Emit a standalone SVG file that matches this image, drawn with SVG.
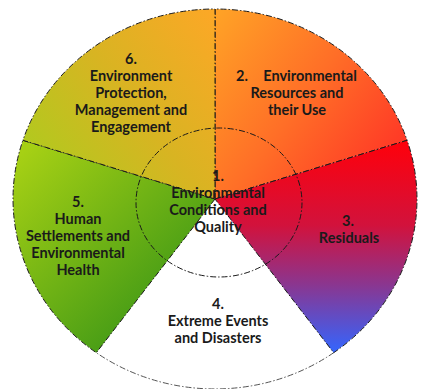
<svg xmlns="http://www.w3.org/2000/svg" width="422" height="389" viewBox="0 0 422 389">
<defs>
<linearGradient id="g2" gradientUnits="userSpaceOnUse" x1="215" y1="20" x2="405" y2="160">
<stop offset="0" stop-color="#ffa126"/><stop offset="0.5" stop-color="#ff6e27"/><stop offset="1" stop-color="#ff3326"/>
</linearGradient>
<linearGradient id="g3" gradientUnits="userSpaceOnUse" x1="0" y1="140" x2="0" y2="353">
<stop offset="0" stop-color="#ff000a"/><stop offset="0.4" stop-color="#d2123c"/><stop offset="0.68" stop-color="#8a3690"/><stop offset="1" stop-color="#3366ff"/>
</linearGradient>
<linearGradient id="g5" gradientUnits="userSpaceOnUse" x1="25" y1="150" x2="190" y2="320">
<stop offset="0" stop-color="#a6d014"/><stop offset="1" stop-color="#379416"/>
</linearGradient>
<linearGradient id="g6" gradientUnits="userSpaceOnUse" x1="30" y1="160" x2="215" y2="20">
<stop offset="0" stop-color="#b0ca1e"/><stop offset="0.5" stop-color="#d8b422"/><stop offset="1" stop-color="#fba826"/>
</linearGradient>
</defs>
<style>
.sec{stroke:#1a1a1a;stroke-width:1;stroke-dasharray:6 2 1.5 2}
.white{fill:#ffffff;stroke:none}
.arc4{fill:none;stroke:#555;stroke-width:1;stroke-dasharray:6 2 1.5 2}
.inner{fill:none;stroke:#1a1a1a;stroke-width:1;stroke-dasharray:6 2 1.5 2}
text{font-family:Lato,"Open Sans","Liberation Sans",sans-serif;font-weight:bold;font-size:14.5px;fill:#1a1a1a;text-anchor:middle}
</style>
<g id="node4">
<path class="white" d="M215,199 L333.7,352.7 A202,190 0 0,1 96.3,352.7 Z"/>
<path class="arc4" d="M333.7,352.7 A202,190 0 0,1 96.3,352.7"/>
<text x="218" y="309">4.</text>
<text x="218" y="326">Extreme Events</text>
<text x="218" y="343">and Disasters</text>
</g>
<g id="node2">
<path class="sec" fill="url(#g2)" d="M215,199 L215,9 A202,190 0 0,1 407.1,140.3 Z"/>
<text x="242" y="81">2.</text>
<text x="310" y="81">Environmental</text>
<text x="297" y="98">Resources and</text>
<text x="297" y="115">their Use</text>
</g>
<g id="node3">
<path class="sec" fill="url(#g3)" d="M215,199 L407.1,140.3 A202,190 0 0,1 333.7,352.7 Z"/>
<text x="348" y="226">3.</text>
<text x="349" y="243">Residuals</text>
</g>
<g id="node5">
<path class="sec" fill="url(#g5)" d="M215,199 L96.3,352.7 A202,190 0 0,1 22.9,140.3 Z"/>
<text x="78" y="207">5.</text>
<text x="78" y="224">Human</text>
<text x="78" y="241">Settlements and</text>
<text x="78" y="258">Environmental</text>
<text x="78" y="275">Health</text>
</g>
<g id="node6">
<path class="sec" fill="url(#g6)" d="M215,199 L22.9,140.3 A202,190 0 0,1 215,9 Z"/>
<text x="131" y="64">6.</text>
<text x="131" y="81">Environment</text>
<text x="131" y="98">Protection,</text>
<text x="131" y="115">Management and</text>
<text x="131" y="132">Engagement</text>
</g>
<g id="node1">
<ellipse class="inner" cx="219" cy="202.5" rx="83" ry="74.5"/>
<text x="218" y="181">1.</text>
<text x="218" y="198">Environmental</text>
<text x="218" y="215">Conditions and</text>
<text x="218" y="232">Quality</text>
</g>
</svg>
